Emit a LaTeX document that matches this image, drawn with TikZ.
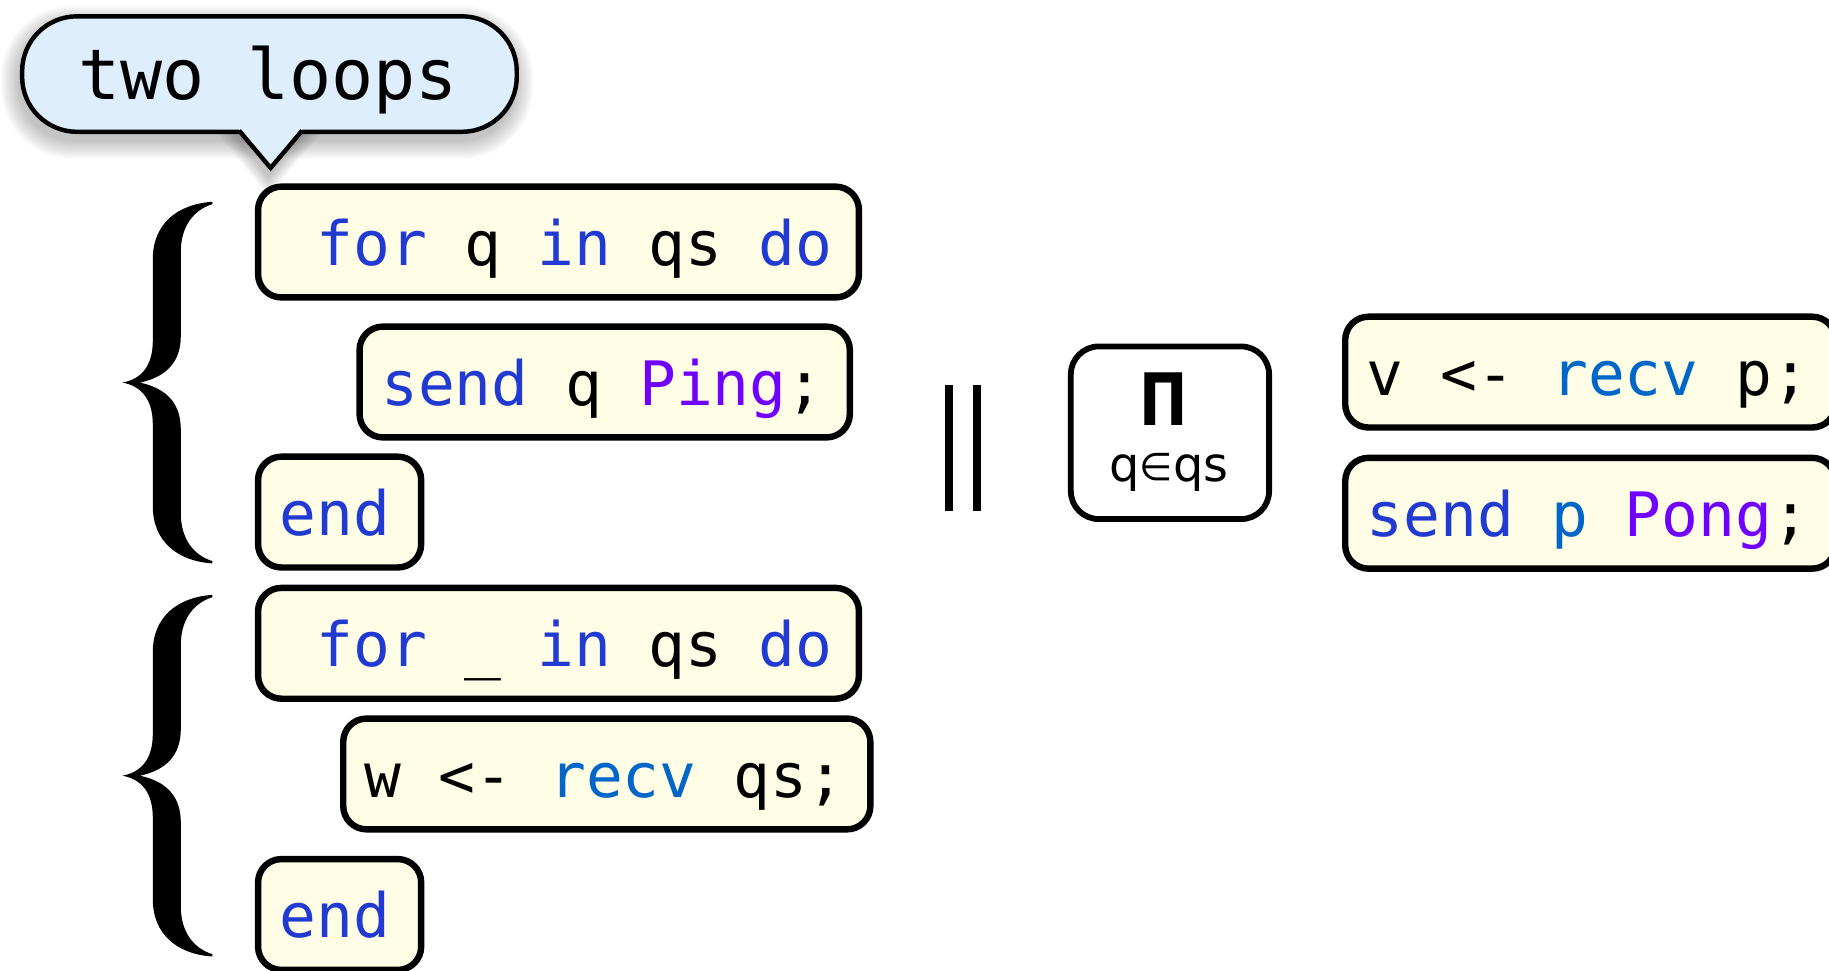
\documentclass[tikz,border=0pt]{standalone}
\usepackage{fontspec}
\usepackage{graphicx}
\newfontfamily\codefont{DejaVu Sans Mono}
\newfontfamily\dejasans{DejaVu Sans}
\definecolor{kw}{RGB}{32,58,210}
\definecolor{fn}{RGB}{0,102,200}
\definecolor{ctor}{RGB}{112,0,255}
\definecolor{codefill}{RGB}{255,253,230}
\definecolor{bubfill}{RGB}{222,238,253}
\newcommand\cfont{\codefont\fontsize{52.5}{60}\selectfont}
\newcommand\kw[1]{\textcolor{kw}{#1}}
\newcommand\fn[1]{\textcolor{fn}{#1}}
\newcommand\ct[1]{\textcolor{ctor}{#1}}
\newcommand\lead{\phantom{x}}
\tikzset{
  codebox/.style={draw, line width=5.5pt, rounded corners=20pt, fill=codefill,
    inner xsep=18.5pt, inner ysep=0pt, minimum height=95pt,
    text height=40pt, text depth=0pt, font=\cfont, anchor=west,
    execute at end node={\kern4pt}},
  pibox/.style={draw, line width=5pt, rounded corners=24pt, fill=white,
    minimum width=170pt, minimum height=148pt, inner sep=0pt},
  bubline/.style={draw=black, line width=3.8pt},
}
\begin{document}
\begin{tikzpicture}[x=1pt,y=-1pt]
\useasboundingbox (0,0) rectangle (1568,832);
% bubble shadow
\foreach \e in {0,1.5,...,15}{
  \fill[black,opacity=0.025,rounded corners={46pt+\e pt}]
    (16-\e,20-\e) rectangle (442+\e,121+\e);
  \fill[black,opacity=0.025] (199-\e,112) -- (230,153+\e) -- (263+\e,112) -- cycle;
}
% bubble
\draw[bubline, fill=bubfill, rounded corners=47pt] (19,14) rectangle (443,113);
\fill[bubfill] (204,110) -- (260,110) -- (232,143) -- cycle;
\draw[bubline, line join=miter] (205,112) -- (232,144) -- (259,112);
\node[font=\codefont\fontsize{60}{70}\selectfont, text height=43pt, text depth=0pt,
      inner sep=0pt] (bubtext) at (230,63.5) {two loops};
% braces
\foreach \dy in {0,337}{
\begin{scope}[shift={(0,\dy)}]
\fill (182,173) .. controls (152,175) and (131,192) .. (131,222)
  -- (131,292) .. controls (131,314) and (121,325) .. (105,328)
  .. controls (121,331) and (131,342) .. (131,364)
  -- (131,434) .. controls (131,464) and (152,481) .. (182,483)
  -- (182,481) .. controls (166,476) and (155,462) .. (155,440)
  -- (155,368) .. controls (155,346) and (143,333) .. (120,328)
  .. controls (143,323) and (155,310) .. (155,288)
  -- (155,216) .. controls (155,194) and (166,180) .. (182,175) -- cycle;
\end{scope}}
% code boxes
\node[codebox] (for1) at (218.5,207.5) {\lead\kw{for} q \kw{in} qs \kw{do}};
\node[codebox] (send1) at (305.5,327.5) {\kw{send} q \ct{Ping};};
\node[codebox] (end1) at (218.5,439) {\kw{end}\kern4pt};
\node[codebox] (for2) at (218.5,551.5) {\lead\kw{for} \_ \kw{in} qs \kw{do}};
\node[codebox] (recv1) at (291.5,663.5) {w <- \fn{recv} qs;};
\node[codebox] (end2) at (218.5,784) {\kw{end}\kern4pt};
\node[codebox] (recv2) at (1150.5,319) {v <- \fn{recv} p;};
\node[codebox] (send2) at (1150.5,440) {\kw{send} \fn{p} \ct{Pong};};
% parallel bars
\draw[line width=7pt] (813.5,330) -- (813.5,438);
\draw[line width=7pt] (837.5,330) -- (837.5,438);
% product box
\node[pibox] (prod) at (1003,371) {};
\node[font=\dejasans\bfseries\fontsize{62}{64}\selectfont, anchor=base, inner sep=0pt]
  (pi) at (998,365) {\scalebox{0.8}[1]{Π}};
\node[font=\dejasans\fontsize{41}{44}\selectfont, anchor=base, inner sep=0pt]
  (qin) at (1002,413) {q\raisebox{1pt}{\scalebox{0.8}{∈}}qs};
\end{tikzpicture}
\end{document}
